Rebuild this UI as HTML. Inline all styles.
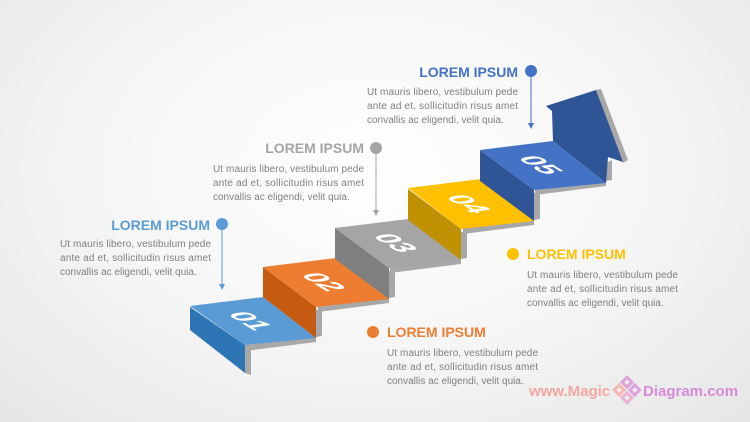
<!DOCTYPE html>
<html><head><meta charset="utf-8"><style>
html,body{margin:0;padding:0;}
body{width:750px;height:422px;overflow:hidden;background:radial-gradient(ellipse at 50% 40%,#ffffff 0%,#f6f6f6 50%,#e6e6e6 100%);}
svg{position:absolute;left:0;top:0;}
text{font-family:"Liberation Sans",sans-serif;}
.t{font-size:14px;font-weight:bold;}
.b{font-size:10px;fill:#7f7f7f;}
.n{font-size:31px;font-weight:bold;fill:#fff;}
</style></head><body>
<svg width="750" height="422" viewBox="0 0 750 422">
<defs><marker id="ar" markerWidth="6" markerHeight="6" refX="3" refY="3" orient="auto"><path d="M0,0 L6,3 L0,6z" fill="context-stroke"/></marker></defs>

<g fill="#a8a8a8">
<polygon points="245,345 316,337 322,336 322,309 316,310 316,342 245,351"/>
<polygon points="318,306 389,298 395,297 395,270 389,271 389,303 318,312"/>
<polygon points="390,267 461,259 467,258 467,231 461,232 461,264 390,273"/>
<polygon points="463,228 534,220 540,219 540,192 534,193 534,225 463,234"/>
<polygon points="535,189 606,181 612,180 612,160 606,163 606,186 535,195"/>
<polygon points="245,345 251,344 251,375 245,373"/>
</g>

<polygon points="190,307 245,345 245,373 190,330" fill="#2e75b6"/>
<polygon points="190,306 263,297 316,338 245,345" fill="#5b9bd5"/>
<polygon points="263,267 316,307 316,338 263,297" fill="#c55a11"/>
<polygon points="263,267 336,258 389,299 316,307" fill="#ed7d31"/>
<polygon points="335,228 389,268 389,299 335,259" fill="#7f7f7f"/>
<polygon points="335,228 408,219 461,260 389,268" fill="#a5a5a5"/>
<polygon points="408,189 461,229 461,260 408,220" fill="#bf9000"/>
<polygon points="408,188 481,179 534,221 461,229" fill="#ffc000"/>
<polygon points="480,150 534,190 534,221 480,181" fill="#2f5597"/>
<polygon points="480,150 553,141 606,183 534,190" fill="#4472c4"/>
<polygon points="596,90 601,89 628,160 623,163" fill="#a8a8a8"/>
<polygon points="553,141 552,111 546,106 596,90 623,162 608,157 606,183" fill="#2f5597"/>

<g class="n">
<text transform="matrix(0.82,0.5,-0.95,0.14,250,321)" text-anchor="middle" dominant-baseline="central">01</text>
<text transform="matrix(0.82,0.5,-0.95,0.14,323,282)" text-anchor="middle" dominant-baseline="central">02</text>
<text transform="matrix(0.82,0.5,-0.95,0.14,395,243)" text-anchor="middle" dominant-baseline="central">03</text>
<text transform="matrix(0.82,0.5,-0.95,0.14,468,204)" text-anchor="middle" dominant-baseline="central">04</text>
<text transform="matrix(0.82,0.5,-0.95,0.14,540,165)" text-anchor="middle" dominant-baseline="central">05</text>
</g>

<text class="t" x="518" y="77" text-anchor="end" fill="#4472c4">LOREM IPSUM</text>
<circle cx="531" cy="71" r="6" fill="#4472c4"/>
<line x1="531" y1="71" x2="531" y2="126" stroke="#4472c4" stroke-width="1" marker-end="url(#ar)"/>
<text class="b" x="367" y="95" textLength="151" lengthAdjust="spacing">Ut mauris libero, vestibulum pede</text>
<text class="b" x="367" y="109" textLength="151" lengthAdjust="spacing">ante ad et, sollicitudin risus amet</text>
<text class="b" x="367" y="123">convallis ac eligendi, velit quia.</text>

<text class="t" x="364" y="153" text-anchor="end" fill="#a5a5a5">LOREM IPSUM</text>
<circle cx="376" cy="148" r="6" fill="#a5a5a5"/>
<line x1="376" y1="148" x2="376" y2="213" stroke="#a5a5a5" stroke-width="1" marker-end="url(#ar)"/>
<text class="b" x="213" y="172" textLength="151" lengthAdjust="spacing">Ut mauris libero, vestibulum pede</text>
<text class="b" x="213" y="186" textLength="151" lengthAdjust="spacing">ante ad et, sollicitudin risus amet</text>
<text class="b" x="213" y="200">convallis ac eligendi, velit quia.</text>

<text class="t" x="210" y="230" text-anchor="end" fill="#5b9bd5">LOREM IPSUM</text>
<circle cx="222" cy="224" r="6" fill="#5b9bd5"/>
<line x1="222" y1="224" x2="222" y2="287" stroke="#5b9bd5" stroke-width="1" marker-end="url(#ar)"/>
<text class="b" x="60" y="247" textLength="151" lengthAdjust="spacing">Ut mauris libero, vestibulum pede</text>
<text class="b" x="60" y="261" textLength="151" lengthAdjust="spacing">ante ad et, sollicitudin risus amet</text>
<text class="b" x="60" y="275">convallis ac eligendi, velit quia.</text>

<circle cx="513" cy="254" r="6" fill="#ffc000"/>
<text class="t" x="527" y="259" fill="#ffc000">LOREM IPSUM</text>
<text class="b" x="527" y="278" textLength="151" lengthAdjust="spacing">Ut mauris libero, vestibulum pede</text>
<text class="b" x="527" y="292" textLength="151" lengthAdjust="spacing">ante ad et, sollicitudin risus amet</text>
<text class="b" x="527" y="306">convallis ac eligendi, velit quia.</text>

<circle cx="373" cy="332" r="6" fill="#ed7d31"/>
<text class="t" x="387" y="337" fill="#ed7d31">LOREM IPSUM</text>
<text class="b" x="387" y="356" textLength="151" lengthAdjust="spacing">Ut mauris libero, vestibulum pede</text>
<text class="b" x="387" y="370" textLength="151" lengthAdjust="spacing">ante ad et, sollicitudin risus amet</text>
<text class="b" x="387" y="384">convallis ac eligendi, velit quia.</text>

<text x="529" y="396" style="font-size:15px;font-weight:bold;" fill="#f4a6a0">www.Magic</text>
<g transform="translate(627,390) rotate(45)" opacity="0.75">
<rect x="-9" y="-9" width="7" height="7" fill="none" stroke="#d88ad8" stroke-width="3"/>
<rect x="2" y="-9" width="7" height="7" fill="none" stroke="#d88ad8" stroke-width="3"/>
<rect x="-9" y="2" width="7" height="7" fill="none" stroke="#f4a6a0" stroke-width="3"/>
<rect x="2" y="2" width="7" height="7" fill="none" stroke="#e8a0c8" stroke-width="3"/>
</g>
<text x="643" y="396" style="font-size:15px;font-weight:bold;" fill="#d58ad8">Diagram.com</text>
</svg>
</body></html>
